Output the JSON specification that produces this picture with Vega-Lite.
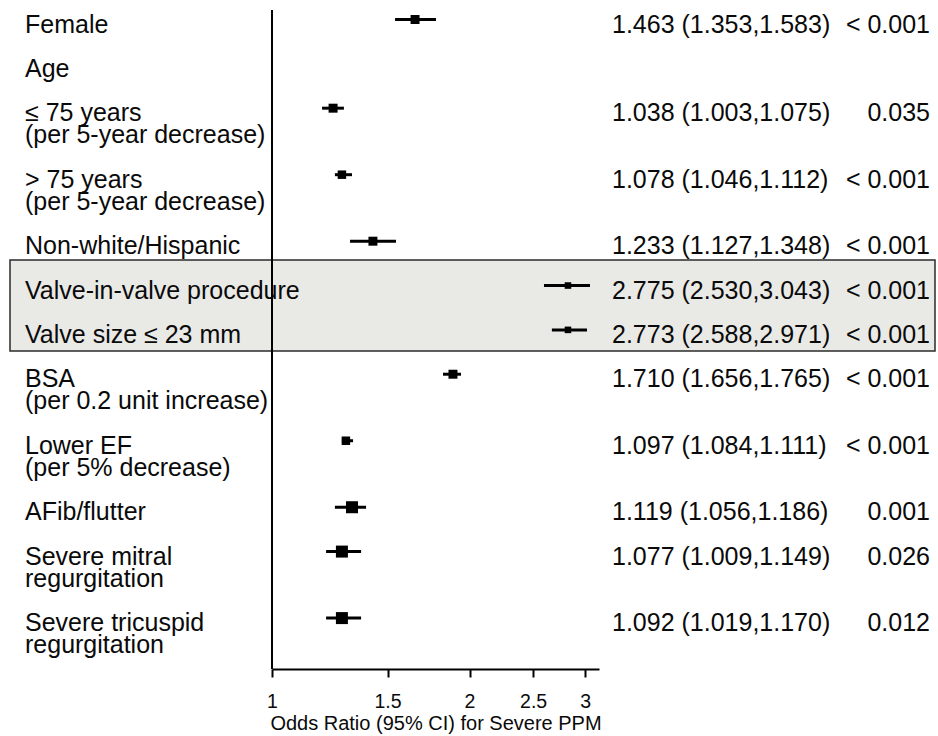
{
  "$schema": "https://vega.github.io/schema/vega-lite/v6.json",
  "width": 925,
  "height": 659,
  "autosize": {"type": "none"},
  "padding": {"left": 10, "top": 10, "right": 3, "bottom": 67},
  "background": "white",
  "config": {"view": {"stroke": null}, "font": "Liberation Sans"},
  "data": {
    "values": [
      {"order": 1, "label": ["Female"], "est": 1.652, "lo": 1.540, "hi": 1.778, "weight": 0.56, "or_ci": "1.463 (1.353,1.583)", "p": "< 0.001", "highlight": false},
      {"order": 2, "label": ["Age"], "est": null, "lo": null, "hi": null, "weight": null, "or_ci": "", "p": "", "highlight": false},
      {"order": 3, "label": ["≤ 75 years", "(per 5-year decrease)"], "est": 1.239, "lo": 1.192, "hi": 1.287, "weight": 0.56, "or_ci": "1.038 (1.003,1.075)", "p": "0.035", "highlight": false},
      {"order": 4, "label": ["> 75 years", "(per 5-year decrease)"], "est": 1.278, "lo": 1.247, "hi": 1.324, "weight": 0.5, "or_ci": "1.078 (1.046,1.112)", "p": "< 0.001", "highlight": false},
      {"order": 5, "label": ["Non-white/Hispanic"], "est": 1.425, "lo": 1.315, "hi": 1.545, "weight": 0.56, "or_ci": "1.233 (1.127,1.348)", "p": "< 0.001", "highlight": false},
      {"order": 6, "label": ["Valve-in-valve procedure"], "est": 2.825, "lo": 2.597, "hi": 3.052, "weight": 0.3, "or_ci": "2.775 (2.530,3.043)", "p": "< 0.001", "highlight": true},
      {"order": 7, "label": ["Valve size ≤ 23 mm"], "est": 2.825, "lo": 2.670, "hi": 3.020, "weight": 0.3, "or_ci": "2.773 (2.588,2.971)", "p": "< 0.001", "highlight": true},
      {"order": 8, "label": ["BSA", "(per 0.2 unit increase)"], "est": 1.887, "lo": 1.822, "hi": 1.941, "weight": 0.56, "or_ci": "1.710 (1.656,1.765)", "p": "< 0.001", "highlight": false},
      {"order": 9, "label": ["Lower EF", "(per 5% decrease)"], "est": 1.296, "lo": 1.278, "hi": 1.329, "weight": 0.5, "or_ci": "1.097 (1.084,1.111)", "p": "< 0.001", "highlight": false},
      {"order": 10, "label": ["AFib/flutter"], "est": 1.324, "lo": 1.247, "hi": 1.391, "weight": 1, "or_ci": "1.119 (1.056,1.186)", "p": "0.001", "highlight": false},
      {"order": 11, "label": ["Severe mitral", "regurgitation"], "est": 1.278, "lo": 1.209, "hi": 1.367, "weight": 1, "or_ci": "1.077 (1.009,1.149)", "p": "0.026", "highlight": false},
      {"order": 12, "label": ["Severe tricuspid", "regurgitation"], "est": 1.278, "lo": 1.209, "hi": 1.367, "weight": 1, "or_ci": "1.092 (1.019,1.170)", "p": "0.012", "highlight": false}
    ]
  },
  "transform": [
    {"calculate": "length(datum.label) + 1", "as": "span"},
    {"window": [{"op": "sum", "field": "span", "as": "cum"}], "sort": [{"field": "order"}], "frame": [null, 0]},
    {"calculate": "datum.cum - datum.span", "as": "u"}
  ],
  "layer": [
    {
      "transform": [
        {"filter": "datum.highlight"},
        {"aggregate": [{"op": "min", "field": "u", "as": "u0"}, {"op": "max", "field": "u", "as": "u1"}]}
      ],
      "mark": {"type": "rect", "fill": "#e9e9e6", "stroke": "#2b2b2b", "strokeWidth": 1.5, "yOffset": -29.5, "y2Offset": 17},
      "encoding": {
        "x": {"value": 0},
        "x2": {"value": "width"},
        "y": {"field": "u0", "type": "quantitative", "scale": {"domain": [-0.609, 29.116], "reverse": true, "nice": false, "zero": false}, "axis": null},
        "y2": {"field": "u1"}
      }
    },
    {
      "mark": {"type": "text", "align": "left", "baseline": "alphabetic", "dy": 9, "fontSize": 25, "lineHeight": 22, "color": "#0a0a0a"},
      "encoding": {
        "x": {"value": 15},
        "y": {"field": "u", "type": "quantitative", "scale": {"domain": [-0.609, 29.116], "reverse": true, "nice": false, "zero": false}, "axis": null},
        "text": {"field": "label", "type": "nominal"}
      }
    },
    {
      "mark": {"type": "text", "align": "left", "baseline": "alphabetic", "dy": 9, "fontSize": 25, "color": "#0a0a0a"},
      "encoding": {
        "x": {"value": 602},
        "y": {"field": "u", "type": "quantitative", "scale": {"domain": [-0.609, 29.116], "reverse": true, "nice": false, "zero": false}, "axis": null},
        "text": {"field": "or_ci", "type": "nominal"}
      }
    },
    {
      "mark": {"type": "text", "align": "right", "baseline": "alphabetic", "dy": 9, "fontSize": 25, "color": "#0a0a0a"},
      "encoding": {
        "x": {"value": 920},
        "y": {"field": "u", "type": "quantitative", "scale": {"domain": [-0.609, 29.116], "reverse": true, "nice": false, "zero": false}, "axis": null},
        "text": {"field": "p", "type": "nominal"}
      }
    },
    {
      "mark": {"type": "rule", "color": "#000", "strokeWidth": 2},
      "encoding": {
        "x": {"datum": 1, "type": "quantitative",
          "scale": {"type": "log", "domain": [1, 3.15], "range": [262, 589], "nice": false},
          "axis": {"values": [1, 1.5, 2, 2.5, 3], "format": "~g", "grid": false, "domainColor": "#000", "domainWidth": 2, "tickColor": "#000", "tickWidth": 2, "tickSize": 8, "labelFontSize": 19.5, "labelColor": "#0a0a0a", "labelPadding": 15, "labelFlush": false, "title": "Odds Ratio (95% CI) for Severe PPM", "titleFontSize": 20, "titleFontWeight": "normal", "titleColor": "#0a0a0a", "titlePadding": 3}}
      }
    },
    {
      "transform": [{"filter": "isValid(datum.est)"}],
      "mark": {"type": "rule", "color": "#000", "strokeWidth": 3, "yOffset": -4},
      "encoding": {
        "x": {"field": "lo", "type": "quantitative",
          "scale": {"type": "log", "domain": [1, 3.15], "range": [262, 589], "nice": false},
          "axis": {"values": [1, 1.5, 2, 2.5, 3], "format": "~g", "grid": false, "domainColor": "#000", "domainWidth": 2, "tickColor": "#000", "tickWidth": 2, "tickSize": 8, "labelFontSize": 19.5, "labelColor": "#0a0a0a", "labelPadding": 15, "labelFlush": false, "title": "Odds Ratio (95% CI) for Severe PPM", "titleFontSize": 20, "titleFontWeight": "normal", "titleColor": "#0a0a0a", "titlePadding": 3}},
        "x2": {"field": "hi"},
        "y": {"field": "u", "type": "quantitative", "scale": {"domain": [-0.609, 29.116], "reverse": true, "nice": false, "zero": false}, "axis": null}
      }
    },
    {
      "transform": [{"filter": "isValid(datum.est)"}],
      "mark": {"type": "square", "color": "#000", "filled": true, "opacity": 1, "yOffset": -4},
      "encoding": {
        "x": {"field": "est", "type": "quantitative",
          "scale": {"type": "log", "domain": [1, 3.15], "range": [262, 589], "nice": false},
          "axis": {"values": [1, 1.5, 2, 2.5, 3], "format": "~g", "grid": false, "domainColor": "#000", "domainWidth": 2, "tickColor": "#000", "tickWidth": 2, "tickSize": 8, "labelFontSize": 19.5, "labelColor": "#0a0a0a", "labelPadding": 15, "labelFlush": false, "title": "Odds Ratio (95% CI) for Severe PPM", "titleFontSize": 20, "titleFontWeight": "normal", "titleColor": "#0a0a0a", "titlePadding": 3}},
        "y": {"field": "u", "type": "quantitative", "scale": {"domain": [-0.609, 29.116], "reverse": true, "nice": false, "zero": false}, "axis": null},
        "size": {"field": "weight", "type": "quantitative", "scale": {"type": "linear", "domain": [0, 1], "range": [0, 144], "zero": true}, "legend": null}
      }
    }
  ]
}
